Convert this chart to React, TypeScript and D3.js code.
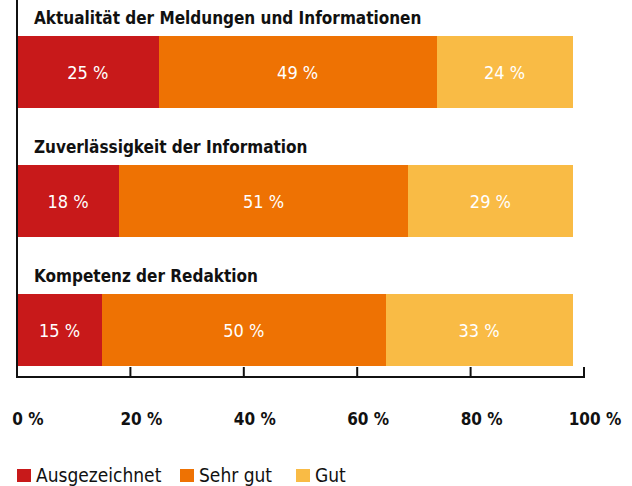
import React from "react";
import * as d3 from "d3";

const categories = [
  "Aktualität der Meldungen und Informationen",
  "Zuverlässigkeit der Information",
  "Kompetenz der Redaktion",
];
const seriesNames = ["Ausgezeichnet", "Sehr gut", "Gut"];
const ausgezeichnet = [25, 18, 15];
const sehrGut = [49, 51, 50];
const gut = [24, 29, 33];
const tickValues = [0, 20, 40, 60, 80, 100];
const colors = ["#C8191A", "#EE7203", "#F9BB45"];

const W = 632;
const H = 486;
const FONT = "'DejaVu Sans Condensed', 'DejaVu Sans', sans-serif";

export default function App() {
  const x = d3.scaleLinear().domain([0, 100]).range([17, 584]);
  const y = d3
    .scaleBand<string>()
    .domain(categories)
    .range([7, 7 + 129 * categories.length])
    .paddingInner(0)
    .paddingOuter(0);

  const series = [ausgezeichnet, sehrGut, gut];
  const table = categories.map((c, i) => {
    const row: any = { cat: c };
    seriesNames.forEach((s, j) => (row[s] = series[j][i]));
    return row;
  });
  const stacked = d3.stack<any>().keys(seriesNames)(table);

  const axisY = 377;
  const barH = 72;

  return (
    <svg
      width={W}
      height={H}
      style={{ position: "absolute", left: 0, top: 0, background: "#fff" }}
      fontFamily={FONT}
    >
      {categories.map((c) => (
        <text
          key={c}
          x={34}
          y={(y(c) as number) + 17}
          fontSize={17}
          fontWeight="bold"
          fill="#111"
        >
          {c}
        </text>
      ))}
      {stacked.map((layer, j) => (
        <g key={layer.key} fill={colors[j]}>
          {layer.map((d, i) => {
            const top = (y(categories[i]) as number) + 29;
            const x0 = x(d[0]);
            const x1 = x(d[1]);
            return (
              <g key={i}>
                <rect
                  x={x0}
                  y={top}
                  width={x1 - x0}
                  height={barH}
                  shapeRendering="crispEdges"
                />
                <text
                  x={(x0 + x1) / 2}
                  y={top + barH / 2 + 7}
                  textAnchor="middle"
                  fontSize={18}
                  fill="#fff"
                >
                  {`${d[1] - d[0]} %`}
                </text>
              </g>
            );
          })}
        </g>
      ))}
      <line x1={17} x2={17} y1={0} y2={axisY + 1} stroke="#111" strokeWidth={2} />
      <line x1={16} x2={585} y1={axisY} y2={axisY} stroke="#111" strokeWidth={2} />
      {tickValues.map((t) => (
        <g key={t}>
          {t > 0 && (
            <line x1={x(t)} x2={x(t)} y1={axisY} y2={axisY - 10} stroke="#111" strokeWidth={2} />
          )}
          <text
            x={x(t) + 11}
            y={425}
            textAnchor="middle"
            fontSize={17}
            fontWeight="bold"
            fill="#111"
          >
            {`${t} %`}
          </text>
        </g>
      ))}
      {seriesNames.map((s, j) => {
        const lx = [17, 180, 296][j];
        return (
          <g key={s}>
            <rect x={lx} y={469} width={14} height={13} fill={colors[j]} />
            <text x={lx + 19} y={482} fontSize={19} fill="#111">
              {s}
            </text>
          </g>
        );
      })}
    </svg>
  );
}
